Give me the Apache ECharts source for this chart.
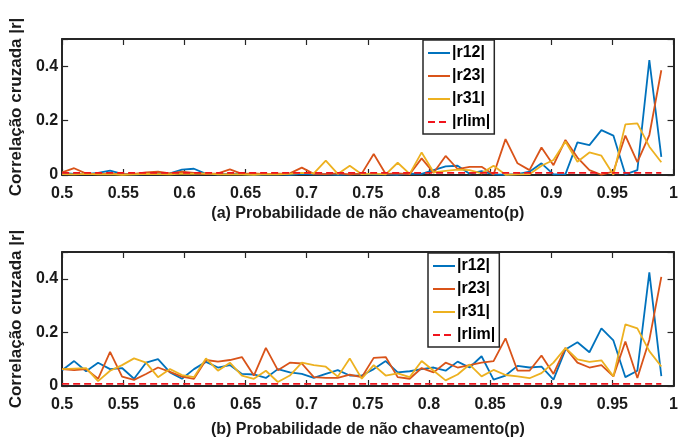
<!DOCTYPE html>
<html>
<head>
<meta charset="utf-8">
<script src="https://cdn.jsdelivr.net/npm/echarts@6/dist/echarts.min.js"></script>
<style>
  html, body { margin: 0; padding: 0; background: #fff; }
  #chart { width: 681px; height: 439px; }
</style>
</head>
<body>
<div id="chart"></div>
<script>
// probabilidade de nao chaveamento (p)
const P = [0.5, 0.5098, 0.5196, 0.5294, 0.5392, 0.549, 0.5588, 0.5686, 0.5784, 0.5882,
  0.598, 0.6078, 0.6176, 0.6274, 0.6372, 0.647, 0.6568, 0.6666, 0.6764, 0.6862,
  0.696, 0.7058, 0.7156, 0.7254, 0.7352, 0.745, 0.7548, 0.7646, 0.7744, 0.7842,
  0.794, 0.8038, 0.8136, 0.8234, 0.8332, 0.843, 0.8528, 0.8626, 0.8724, 0.8822,
  0.892, 0.9018, 0.9116, 0.9214, 0.9312, 0.941, 0.9508, 0.9606, 0.9704, 0.9802,
  0.99];

// (a)
const topR12 = [0.008, 0.004, 0.003, 0.008, 0.016, 0.004, 0.002, 0.003, 0.005, 0.006,
  0.02, 0.023, 0.004, 0.002, 0.005, 0.003, 0.001, 0.002, 0.003, 0.001,
  0.004, 0.002, 0.003, 0.001, 0.002, 0.004, 0.002, 0.003, 0.001, 0.005,
  0.004, 0.018, 0.032, 0.034, 0.005, 0.014, 0.002, 0.001, 0.003, 0.012,
  0.043, 0.002, 0.003, 0.12, 0.11, 0.165, 0.145, 0.002, 0.018, 0.422,
  0.067];
const topR23 = [0.01, 0.025, 0.005, 0.003, 0.006, 0.002, 0.004, 0.01, 0.012, 0.006,
  0.012, 0.008, 0.003, 0.006, 0.021, 0.004, 0.006, 0.003, 0.005, 0.006,
  0.027, 0.004, 0.003, 0.006, 0.002, 0.005, 0.077, 0.004, 0.006, 0.003,
  0.061, 0.008, 0.07, 0.022, 0.03, 0.03, 0.002, 0.132, 0.043, 0.018,
  0.101, 0.036, 0.129, 0.064, 0.018, 0.001, 0.012, 0.145, 0.047, 0.147,
  0.385];
const topR31 = [0.003, 0.002, 0.004, 0.002, 0.003, 0.001, 0.002, 0.004, 0.003, 0.002,
  0.005, 0.004, 0.006, 0.002, 0.003, 0.002, 0.001, 0.003, 0.002, 0.004,
  0.008, 0.006, 0.053, 0.004, 0.034, 0.003, 0.005, 0.002, 0.045, 0.004,
  0.083, 0.01, 0.015, 0.02, 0.018, 0.006, 0.034, 0.001, 0.002, 0.003,
  0.034, 0.055, 0.123, 0.049, 0.083, 0.071, 0.001, 0.186, 0.19, 0.104,
  0.047];

// (b)
const botR12 = [0.059, 0.093, 0.055, 0.087, 0.063, 0.067, 0.027, 0.087, 0.1, 0.051,
  0.027, 0.063, 0.09, 0.069, 0.078, 0.045, 0.043, 0.03, 0.063, 0.051,
  0.045, 0.03, 0.045, 0.059, 0.039, 0.039, 0.063, 0.093, 0.051, 0.055,
  0.063, 0.069, 0.057, 0.091, 0.069, 0.111, 0.024, 0.039, 0.075, 0.069,
  0.072, 0.024, 0.136, 0.163, 0.126, 0.215, 0.17, 0.033, 0.057, 0.424,
  0.037];
const botR23 = [0.063, 0.059, 0.063, 0.027, 0.127, 0.035, 0.023, 0.045, 0.069, 0.053,
  0.035, 0.027, 0.097, 0.091, 0.097, 0.108, 0.039, 0.142, 0.059, 0.087,
  0.084, 0.033, 0.03, 0.03, 0.042, 0.033, 0.105, 0.108, 0.033, 0.027,
  0.067, 0.051, 0.087, 0.069, 0.078, 0.087, 0.093, 0.178, 0.057, 0.057,
  0.114, 0.045, 0.142, 0.087, 0.069, 0.078, 0.036, 0.166, 0.03, 0.172,
  0.407];
const botR31 = [0.063, 0.065, 0.067, 0.018, 0.057, 0.078, 0.103, 0.087, 0.033, 0.063,
  0.041, 0.033, 0.103, 0.057, 0.087, 0.039, 0.027, 0.057, 0.015, 0.039,
  0.087, 0.078, 0.072, 0.035, 0.103, 0.027, 0.078, 0.039, 0.047, 0.033,
  0.093, 0.057, 0.021, 0.043, 0.08, 0.036, 0.06, 0.041, 0.036, 0.029,
  0.048, 0.087, 0.142, 0.099, 0.09, 0.096, 0.036, 0.23, 0.215, 0.13,
  0.073];

const RLIM = 0.008;
const P_RANGE = [0.5, 0.99];

const seriesNames = ['|r12|', '|r23|', '|r31|', '|rlim|'];
const colors = ['#0072BD', '#D95319', '#EDB120', '#F0141C'];
const xNames = ['(a) Probabilidade de não chaveamento(p)', '(b) Probabilidade de não chaveamento(p)'];
const yName = 'Correlação cruzada |r|';

const FONT = "'Liberation Sans', Arial, sans-serif";
const AXIS_COLOR = '#262626';

const grids = [
  { left: 57, right: 6, top: 39, height: 136 },
  { left: 57, right: 6, top: 252, height: 137 },
];

const pair = (arr) => P.map((p, i) => [p, arr[i]]);

function xAxes(gi) {
  const base = {
    type: 'value', gridIndex: gi, min: 0.5, max: 1, interval: 0.05,
    axisLine: { show: true, onZero: false, lineStyle: { color: AXIS_COLOR, width: 2 } },
    axisTick: { inside: true, length: 6, lineStyle: { color: AXIS_COLOR, width: 1.2 } },
    splitLine: { show: false },
  };
  return [
    Object.assign({}, base, {
      position: 'bottom',
      axisLabel: { color: '#1a1a1a', fontFamily: FONT, fontWeight: 'bold', fontSize: 16, margin: 11 },
      name: xNames[gi], nameLocation: 'middle', nameGap: gi === 0 ? 31 : 36,
      nameTextStyle: { color: '#1a1a1a', fontFamily: FONT, fontWeight: 'bold', fontSize: 16 },
    }),
    Object.assign({}, base, { position: 'top', axisLabel: { show: false } }),
  ];
}

function yAxes(gi) {
  const base = {
    type: 'value', gridIndex: gi, min: 0, max: 0.5, interval: 0.2,
    axisLine: { show: true, onZero: false, lineStyle: { color: AXIS_COLOR, width: 2 } },
    axisTick: { show: true, inside: true, length: 6, lineStyle: { color: AXIS_COLOR, width: 1.2 } },
    splitLine: { show: false },
  };
  return [
    Object.assign({}, base, {
      position: 'left',
      axisLabel: {
        color: '#1a1a1a', fontFamily: FONT, fontWeight: 'bold', fontSize: 16, margin: 4,
        formatter: (v) => (v > 0.45 ? '' : String(v)),
      },
      name: yName, nameLocation: 'middle', nameGap: 33,
      nameTextStyle: { color: '#1a1a1a', fontFamily: FONT, fontWeight: 'bold', fontSize: 17 },
    }),
    Object.assign({}, base, { position: 'right', axisLabel: { show: false } }),
  ];
}

function panelSeries(gi, r12, r23, r31) {
  const xi = gi * 2, yi = gi * 2;
  const mk = (k, data, dashed) => ({
    name: seriesNames[k], type: 'line', xAxisIndex: xi, yAxisIndex: yi,
    data: data, symbol: 'none', silent: true, animation: false,
    lineStyle: { color: colors[k], width: 1.8, type: dashed ? [7, 4] : 'solid' },
    itemStyle: { color: colors[k] },
  });
  return [
    mk(0, pair(r12)),
    mk(1, pair(r23)),
    mk(2, pair(r31)),
    mk(3, P_RANGE.map((p) => [p, RLIM]), true),
  ];
}

function legend(left, top) {
  return {
    left: left, top: top, orient: 'vertical',
    data: seriesNames,
    itemWidth: 22, itemHeight: 14, itemGap: 7,
    padding: [5, 4, 4, 4],
    borderColor: AXIS_COLOR, borderWidth: 1.5, backgroundColor: '#fff',
    selectedMode: false,
    itemStyle: { opacity: 0, color: 'transparent', borderWidth: 0 },
    textStyle: { color: '#000', fontFamily: FONT, fontWeight: 'bold', fontSize: 16, padding: [0, 0, 0, -3] },
  };
}

const chart = echarts.init(document.getElementById('chart'), null, { renderer: 'canvas' });
chart.setOption({
  animation: false,
  backgroundColor: '#fff',
  grid: grids,
  xAxis: [...xAxes(0), ...xAxes(1)],
  yAxis: [...yAxes(0), ...yAxes(1)],
  legend: [legend(423, 40), legend(428, 253)],
  series: [
    ...panelSeries(0, topR12, topR23, topR31),
    ...panelSeries(1, botR12, botR23, botR31),
  ],
});
</script>
</body>
</html>
